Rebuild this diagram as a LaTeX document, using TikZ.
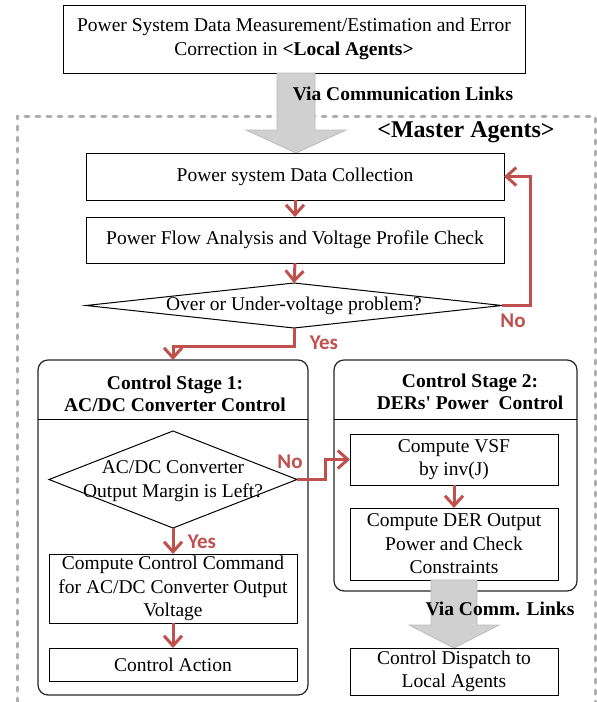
\documentclass[tikz,border=0pt]{standalone}
\usepackage{fontspec}
\setmainfont{Liberation Serif}
\newfontfamily\straightq{Liberation Serif}[Ligatures=TeXOff]
\newfontfamily\lblfont{Carlito}
\usetikzlibrary{arrows.meta,shapes.geometric}
\definecolor{redarr}{HTML}{C0504D}
\definecolor{greyfill}{HTML}{D0D0D0}
\definecolor{greyedge}{HTML}{BBBBBB}
\definecolor{dashgrey}{HTML}{AEAEAE}
\begin{document}
\begin{tikzpicture}[x=1pt,y=-1pt,
  box/.style={draw=black, line width=1pt, rectangle, inner sep=0pt, outer sep=0pt, align=center, font=\fontsize{19.5}{23.5}\selectfont},
  stagebox/.style={draw=black!85, line width=1.2pt, rounded corners=10pt, rectangle, inner sep=0pt, outer sep=0pt},
  dia/.style={draw=black, line width=1pt, diamond, inner sep=0pt, outer sep=0pt},
  txt/.style={align=center, inner sep=0pt, font=\fontsize{19.5}{23.5}\selectfont},
  ttl/.style={align=center, inner sep=0pt, font=\fontsize{19.5}{22.5}\selectfont\bfseries},
  flow/.style={draw=redarr, line width=3pt, -{Straight Barb[length=10pt,width=18pt]}},
  yn/.style={text=redarr, font=\lblfont\bfseries\fontsize{21}{21}\selectfont, inner sep=0pt},
  bigarrow/.style={fill=greyfill, draw=greyedge, line width=0.8pt},
]
\useasboundingbox (0,0) rectangle (597,702);

% dashed master-agent frame
\draw[dashgrey, line width=3pt, line cap=round, dash pattern=on 4pt off 7pt] (17,702) -- (17,116) -- (595,116) -- (595,702);

% top box
\node[box, minimum width=462pt, minimum height=68pt] (top) at (294,39) {Power System Data Measurement/Estimation and Error\\Correction in \textbf{<Local Agents>}};

% big grey arrow 1
\draw[bigarrow] (277,73) -- (315,73) -- (315,130) -- (346,130) -- (296,153) -- (246,130) -- (277,130) -- cycle;
\node[font=\fontsize{19.5}{23.5}\selectfont\bfseries, inner sep=0pt] (via1) at (403,94) {Via Communication Links};
\node[font=\fontsize{24}{28}\selectfont\bfseries, inner sep=0pt] (master) at (466,132) {<Master Agents>};

% main flow
\node[box, minimum width=418pt, minimum height=47pt] (dc) at (295,176.5) {Power system Data Collection};
\node[box, minimum width=418pt, minimum height=46pt] (pf) at (295,240) {Power Flow Analysis and Voltage Profile Check};
\node[dia, minimum width=416pt, minimum height=45pt] (d1) at (294,305.5) {};
\node[txt] (d1t) at (d1.center) {Over or Under-voltage problem?};

% stage 1
\node[stagebox, minimum width=270pt, minimum height=335pt] (s1) at (173,527.5) {};
\draw[line width=1pt] (38,419) -- (308,419);
\node[ttl] (s1t) at (175,394) {Control Stage 1:\\AC/DC Converter Control};
\node[dia, minimum width=248pt, minimum height=97pt] (d2) at (173,479.5) {};
\node[txt] (d2t) at (173,481) {AC/DC Converter\\Output Margin is Left?};
\node[box, minimum width=248pt, minimum height=69pt] (cc) at (173,588.5) {Compute Control Command\\for AC/DC Converter Output\\Voltage};
\node[box, minimum width=248pt, minimum height=33pt] (ca) at (173,664.5) {Control Action};

% stage 2
\node[stagebox, minimum width=243pt, minimum height=231pt] (s2) at (455.5,475.5) {};
\draw[line width=1pt] (334,419) -- (577,419);
\node[ttl] (s2t) at (470,392) {Control Stage 2:\\DERs{\straightq\bfseries '} Power\ \ Control};
\node[box, minimum width=208pt, minimum height=51pt] (vsf) at (454,459.5) {Compute VSF\\by inv(J)};
\node[box, minimum width=208pt, minimum height=72pt] (der) at (454,544) {Compute DER Output\\Power and Check\\Constraints};

% big grey arrow 2
\draw[bigarrow] (431,580) -- (477,580) -- (477,625) -- (499,625) -- (454,648) -- (409,625) -- (431,625) -- cycle;
\node[font=\fontsize{19.5}{23.5}\selectfont\bfseries, inner sep=0pt] (via2) at (500,609) {Via Comm. Links};
\node[box, minimum width=208pt, minimum height=47pt] (disp) at (454,671.5) {Control Dispatch to\\Local Agents};

% red connectors
\draw[flow] (dc.south) -- (pf.north);
\draw[flow] (pf.south) -- (d1.north);
\draw[flow] (d1.east) -| ([xshift=26pt]dc.east) -- (dc.east);
\draw[flow] (d1.south) -- ++(0,18) -| (s1.north);
\draw[flow] (d2.south) -- (cc.north);
\draw[flow] (cc.south) -- (ca.north);
\draw[flow] (d2.east) -- ++(28,0) |- (vsf.west);
\draw[flow] (vsf.south) -- (der.north);

\node[yn] (no1) at (513,321) {No};
\node[yn] (yes1) at (324,343) {Yes};
\node[yn] (yes2) at (202,542) {Yes};
\node[yn] (no2) at (290,462) {No};
\end{tikzpicture}
\end{document}
